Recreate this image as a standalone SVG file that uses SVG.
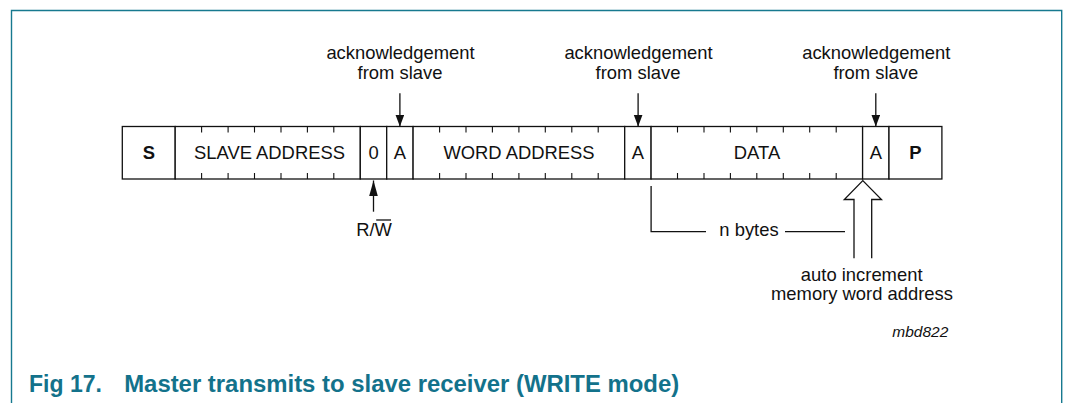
<svg xmlns="http://www.w3.org/2000/svg" width="1066" height="403" viewBox="0 0 1066 403">
<style>
.t{font-family:"Liberation Sans",Arial,sans-serif;font-size:18.4px;fill:#111;}
.c{text-anchor:middle;}
.b{font-weight:bold;}
.cell{fill:#fff;stroke:#111;stroke-width:1.3;}
.tick{stroke:#111;stroke-width:1.1;}
.ln{stroke:#111;stroke-width:1.3;fill:none;}
.title{font-family:"Liberation Sans",Arial,sans-serif;font-size:23px;font-weight:bold;fill:#13728b;}
</style>
<defs>
<marker id="ah" markerUnits="userSpaceOnUse" markerWidth="13" markerHeight="10" refX="12" refY="4.5" orient="auto">
<path d="M0,0 L12,4.5 L0,9 z" fill="#111"/>
</marker>
<marker id="ah2" markerUnits="userSpaceOnUse" markerWidth="16" markerHeight="10" refX="15.5" refY="4.3" orient="auto">
<path d="M0,0 L15.5,4.3 L0,8.6 z" fill="#111"/>
</marker>
</defs>
<rect width="1066" height="403" fill="#fff"/>
<path d="M11.5,403 V10.5 H1061.7 V403" fill="none" stroke="#17798f" stroke-width="1.4"/>

<g id="field-S">
<rect class="cell" x="122.3" y="126.5" width="52.9" height="52.5"/>
<text class="t c b" x="148.8" y="159.3">S</text>
</g>
<g id="field-slave-address">
<rect class="cell" x="175.2" y="126.5" width="185.1" height="52.5"/>
<path class="tick" d="M201.6,126.5v6M228.1,126.5v6M254.5,126.5v6M281,126.5v6M307.4,126.5v6M333.8,126.5v6M201.6,179v-6M228.1,179v-6M254.5,179v-6M281,179v-6M307.4,179v-6M333.8,179v-6"/>
<text class="t c" x="269.5" y="159.3">SLAVE ADDRESS</text>
</g>
<g id="field-rw">
<rect class="cell" x="360.3" y="126.5" width="26.4" height="52.5"/>
<text class="t c" x="373.5" y="159.3">0</text>
</g>
<g id="field-ack1">
<rect class="cell" x="386.7" y="126.5" width="26.4" height="52.5"/>
<text class="t c" x="399.9" y="159.3">A</text>
</g>
<g id="field-word-address">
<rect class="cell" x="413.1" y="126.5" width="211.6" height="52.5"/>
<path class="tick" d="M439.6,126.5v6M466,126.5v6M492.4,126.5v6M518.9,126.5v6M545.3,126.5v6M571.8,126.5v6M598.2,126.5v6M439.6,179v-6M466,179v-6M492.4,179v-6M518.9,179v-6M545.3,179v-6M571.8,179v-6M598.2,179v-6"/>
<text class="t c" x="519" y="159.3">WORD ADDRESS</text>
</g>
<g id="field-ack2">
<rect class="cell" x="624.7" y="126.5" width="26.4" height="52.5"/>
<text class="t c" x="637.9" y="159.3">A</text>
</g>
<g id="field-data">
<rect class="cell" x="651.1" y="126.5" width="211.5" height="52.5"/>
<path class="tick" d="M677.5,126.5v6M704,126.5v6M730.4,126.5v6M756.8,126.5v6M783.3,126.5v6M809.7,126.5v6M836.2,126.5v6M677.5,179v-6M704,179v-6M730.4,179v-6M756.8,179v-6M783.3,179v-6M809.7,179v-6M836.2,179v-6"/>
<text class="t c" x="757" y="159.3">DATA</text>
</g>
<g id="field-ack3">
<rect class="cell" x="862.6" y="126.5" width="26.4" height="52.5"/>
<text class="t c" x="875.8" y="159.3">A</text>
</g>
<g id="field-P">
<rect class="cell" x="889" y="126.5" width="52.9" height="52.5"/>
<text class="t c b" x="915.5" y="159.3">P</text>
</g>

<g id="label-ack1">
<text class="t c" x="400.5" y="59.3">acknowledgement</text>
<text class="t c" x="400" y="79.3">from slave</text>
</g>
<g id="label-ack2">
<text class="t c" x="638.5" y="59.3">acknowledgement</text>
<text class="t c" x="638" y="79.3">from slave</text>
</g>
<g id="label-ack3">
<text class="t c" x="876.3" y="59.3">acknowledgement</text>
<text class="t c" x="875.8" y="79.3">from slave</text>
</g>
<g id="label-rw">
<text class="t c" x="374" y="235.7">R/W</text>
<line class="ln" x1="376.2" y1="220" x2="391" y2="220" stroke-width="1.2"/>
</g>
<g id="label-nbytes">
<text class="t c" x="749" y="235.5">n bytes</text>
</g>
<g id="label-autoinc">
<text class="t c" x="861.7" y="280.6">auto increment</text>
<text class="t c" x="862" y="300">memory word address</text>
</g>
<g id="label-code">
<text class="t" x="948.3" y="336.7" style="font-size:15.5px;font-style:italic;text-anchor:end">mbd822</text>
</g>

<g id="connectors">
<line class="ln" x1="399.9" y1="93.3" x2="399.9" y2="126.5" marker-end="url(#ah)"/>
<line class="ln" x1="638.1" y1="93.3" x2="638.1" y2="126.5" marker-end="url(#ah)"/>
<line class="ln" x1="875.8" y1="93.3" x2="875.8" y2="126.5" marker-end="url(#ah)"/>
<line class="ln" x1="373.5" y1="211.7" x2="373.5" y2="180.5" marker-end="url(#ah2)"/>
<polyline class="ln" points="651.1,186 651.1,231.7 706,231.7"/>
<line class="ln" x1="785" y1="231.7" x2="845" y2="231.7"/>
<polyline class="ln" points="854,258.3 854,199.5 844.3,199.5 862.8,180.6 881.5,199.5 871.7,199.5 871.7,258.3"/>
</g>

<text class="title" y="391.7"><tspan x="29">Fig 17.</tspan><tspan x="124.2" textLength="555" lengthAdjust="spacingAndGlyphs">Master transmits to slave receiver (WRITE mode)</tspan></text>
</svg>
